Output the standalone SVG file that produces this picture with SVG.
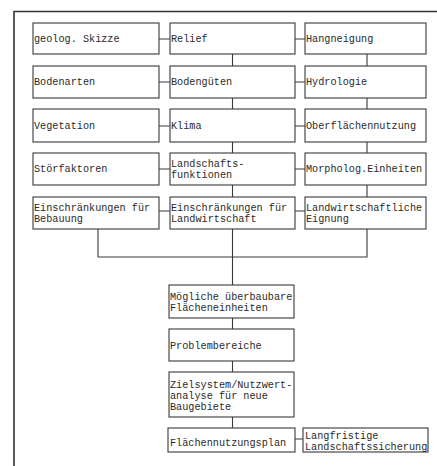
<svg xmlns="http://www.w3.org/2000/svg" width="437" height="466" viewBox="0 0 437 466">
<style>
.b{fill:#fff;stroke:#3a3a3a;stroke-width:1.1}
.t{font-family:"Liberation Mono","DejaVu Sans Mono",monospace;font-size:10.2px;fill:#2a2a2a}
.c{stroke:#3a3a3a;stroke-width:1.1;fill:none}
</style>
<rect width="437" height="466" fill="#fff"/>
<path d="M14,466 V11.5 H437" stroke="#333" stroke-width="1.6" fill="none"/>
<g id="connectors" class="c">
<path d="M159,39 H170 M295,39 H305 M159,82 H170 M295,82 H305 M159,126 H170 M295,126 H305 M159,169 H170 M295,169 H305 M159,211 H170 M295,211 H305"/>
<path d="M232.5,54 V66 M232.5,98 V109 M232.5,142 V153 M232.5,185 V197 M367,54 V66 M367,98 V109 M367,142 V153 M367,185 V197"/>
<path d="M98,229 V257 H367 V229 M232.5,229 V285"/>
<path d="M232.5,318 V329 M232.5,361 V372 M232.5,417 V428 M295,439 H303"/>
</g>
<g id="n1"><rect class="b" x="33" y="23" width="126" height="31"/><text class="t" x="34" y="42">geolog. Skizze</text></g>
<g id="n2"><rect class="b" x="170" y="23" width="125" height="31"/><text class="t" x="171" y="42">Relief</text></g>
<g id="n3"><rect class="b" x="305" y="23" width="121" height="31"/><text class="t" x="306" y="42">Hangneigung</text></g>
<g id="n4"><rect class="b" x="33" y="66" width="126" height="32"/><text class="t" x="34" y="85">Bodenarten</text></g>
<g id="n5"><rect class="b" x="170" y="66" width="125" height="32"/><text class="t" x="171" y="85">Bodengüten</text></g>
<g id="n6"><rect class="b" x="305" y="66" width="121" height="32"/><text class="t" x="306" y="85">Hydrologie</text></g>
<g id="n7"><rect class="b" x="33" y="109" width="126" height="33"/><text class="t" x="34" y="129">Vegetation</text></g>
<g id="n8"><rect class="b" x="170" y="109" width="125" height="33"/><text class="t" x="171" y="129">Klima</text></g>
<g id="n9"><rect class="b" x="305" y="109" width="121" height="33"/><text class="t" x="306" y="129">Oberflächennutzung</text></g>
<g id="n10"><rect class="b" x="33" y="153" width="126" height="32"/><text class="t" x="34" y="172">Störfaktoren</text></g>
<g id="n11"><rect class="b" x="170" y="153" width="125" height="32"/><text class="t" x="171" y="167">Landschafts-</text><text class="t" x="171" y="178">funktionen</text></g>
<g id="n12"><rect class="b" x="305" y="153" width="121" height="32"/><text class="t" x="306" y="172">Morpholog.Einheiten</text></g>
<g id="n13"><rect class="b" x="33" y="197" width="126" height="32"/><text class="t" x="34" y="211">Einschränkungen für</text><text class="t" x="34" y="222">Bebauung</text></g>
<g id="n14"><rect class="b" x="170" y="197" width="125" height="32"/><text class="t" x="171" y="211">Einschränkungen für</text><text class="t" x="171" y="222">Landwirtschaft</text></g>
<g id="n15"><rect class="b" x="305" y="197" width="121" height="32"/><text class="t" x="306" y="211">Landwirtschaftliche</text><text class="t" x="306" y="222">Eignung</text></g>
<g id="n16"><rect class="b" x="169" y="285" width="125" height="33"/><text class="t" x="170" y="300">Mögliche überbaubare</text><text class="t" x="170" y="311">Flächeneinheiten</text></g>
<g id="n17"><rect class="b" x="169" y="329" width="125" height="32"/><text class="t" x="170" y="349">Problembereiche</text></g>
<g id="n18"><rect class="b" x="169" y="372" width="125" height="45"/><text class="t" x="170" y="388">Zielsystem/Nutzwert-</text><text class="t" x="170" y="399">analyse für neue</text><text class="t" x="170" y="410">Baugebiete</text></g>
<g id="n19"><rect class="b" x="168" y="428" width="127" height="24"/><text class="t" x="170" y="446">Flächennutzungsplan</text></g>
<g id="n20"><rect class="b" x="303" y="428" width="125" height="24"/><text class="t" x="305" y="439">Langfristige</text><text class="t" x="305" y="450">Landschaftssicherung</text></g>
</svg>
